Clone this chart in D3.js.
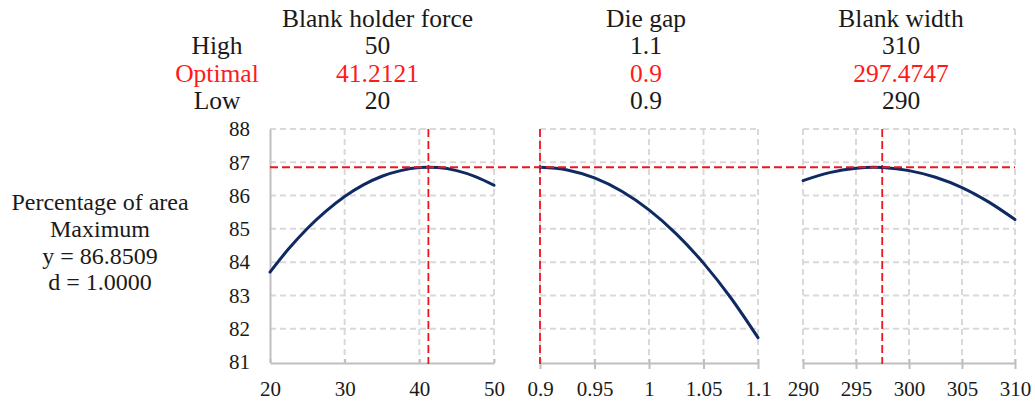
<!DOCTYPE html>
<html>
<head>
<meta charset="utf-8">
<script src="https://cdn.jsdelivr.net/npm/d3@7"></script>
<style>
  html, body { margin: 0; padding: 0; background: #fff; }
  svg { display: block; font-family: "Liberation Serif", "DejaVu Serif", serif; }
  svg text { font-family: "Liberation Serif", "DejaVu Serif", serif !important; }
</style>
</head>
<body>
<svg id="chart" width="1035" height="408"></svg>
<script>
// Response optimization: one panel per factor
const factorNames = ["Blank holder force", "Die gap", "Blank width"];
const highLabels = ["50", "1.1", "310"];
const optimalValues = [41.2121, 0.9, 297.4747];
const optimalLabels = ["41.2121", "0.9", "297.4747"];
const lowLabels = ["20", "0.9", "290"];

const responseName = "Percentage of area";
const goalName = "Maximum";
const responseOptimum = 86.8509;
const desirabilityLabel = "1.0000";

const yTicks = [81, 82, 83, 84, 85, 86, 87, 88];
const xTicksForce = [20, 30, 40, 50];
const xTicksGap = [0.9, 0.95, 1, 1.05, 1.1];
const xTicksWidth = [290, 295, 300, 305, 310];

// Predicted response along each factor, others held at their optimum
const forceX = [20, 22.5, 25, 27.5, 30, 32.5, 35, 37.5, 40, 41.2121, 42.5, 45, 47.5, 50];
const forceY = [83.70, 84.40, 85.01, 85.53, 85.97, 86.32, 86.58, 86.75, 86.84, 86.85, 86.84, 86.75, 86.57, 86.31];
const gapX = [0.9, 0.925, 0.95, 0.975, 1.0, 1.025, 1.05, 1.075, 1.1];
const gapY = [86.85, 86.77, 86.53, 86.13, 85.57, 84.85, 83.97, 82.93, 81.73];
const widthX = [290, 292.5, 295, 296.7, 297.5, 300, 302.5, 305, 307.5, 310];
const widthY = [86.45, 86.69, 86.82, 86.85, 86.84, 86.75, 86.55, 86.24, 85.81, 85.28];

const svg = d3.select("#chart");

const plotTop = 129, plotBottom = 362;
const panels = [
  { x0: 270, x1: 494, domain: [20, 50], ticks: xTicksForce, xs: forceX, ys: forceY, headerX: 377.5, leftAxis: true },
  { x0: 540, x1: 758, domain: [0.9, 1.1], ticks: xTicksGap, xs: gapX, ys: gapY, headerX: 646, leftAxis: false },
  { x0: 803, x1: 1015, domain: [290, 310], ticks: xTicksWidth, xs: widthX, ys: widthY, headerX: 901, leftAxis: false }
];

const y = d3.scaleLinear().domain([81, 88]).range([plotBottom, plotTop]);

const gridColor = "#d9d9d9";
const axisColor = "#bfbfbf";
const refColor = "#f0141e";
const curveColor = "#0f2a62";
const textColor = "#1a1a1a";
const optColor = "#ff1a1a";

// Header block: factor names, high / optimal / low settings
const rowY = [27, 54, 81.5, 109];
const headerSize = 25.5;
const rowLabels = [["High", textColor], ["Optimal", optColor], ["Low", textColor]];
rowLabels.forEach(([t, c], i) => {
  svg.append("text").attr("x", 217).attr("y", rowY[i + 1])
    .attr("text-anchor", "middle").attr("font-size", headerSize).attr("fill", c).text(t);
});

panels.forEach((p, i) => {
  const cols = [[factorNames[i], textColor], [highLabels[i], textColor], [optimalLabels[i], optColor], [lowLabels[i], textColor]];
  cols.forEach(([t, c], r) => {
    svg.append("text").attr("x", p.headerX).attr("y", rowY[r])
      .attr("text-anchor", "middle").attr("font-size", headerSize).attr("fill", c).text(t);
  });
});

// Response summary on the left
const leftLines = [responseName, goalName, "y = " + responseOptimum.toFixed(4), "d = " + desirabilityLabel];
const leftY = [209.5, 236.5, 263.5, 290];
leftLines.forEach((t, i) => {
  svg.append("text").attr("x", 100).attr("y", leftY[i])
    .attr("text-anchor", "middle").attr("font-size", 24).attr("fill", textColor).text(t);
});

panels.forEach((p, i) => {
  const x = d3.scaleLinear().domain(p.domain).range([p.x0, p.x1]);
  const g = svg.append("g");

  // dashed grid
  g.selectAll("line.hgrid").data(yTicks.filter(v => v > 81)).enter().append("line")
    .attr("x1", p.x0).attr("x2", p.x1).attr("y1", d => y(d)).attr("y2", d => y(d))
    .attr("stroke", gridColor).attr("stroke-width", 2).attr("stroke-dasharray", "6,4");
  g.selectAll("line.vgrid").data(p.ticks.filter((v, k) => !(p.leftAxis && k === 0))).enter().append("line")
    .attr("x1", d => x(d)).attr("x2", d => x(d)).attr("y1", plotTop).attr("y2", plotBottom)
    .attr("stroke", gridColor).attr("stroke-width", 2).attr("stroke-dasharray", "6,4");

  // bottom axis
  const ax = g.append("g").attr("transform", `translate(0,${plotBottom + 1})`)
    .call(d3.axisBottom(x).tickValues(p.ticks).tickFormat(d => String(d))
      .tickSizeInner(p.leftAxis ? -4 : 6).tickSizeOuter(0));
  ax.attr("font-family", null);
  ax.select(".domain").attr("stroke", axisColor).attr("stroke-width", 2);
  ax.selectAll(".tick line").attr("stroke", axisColor).attr("stroke-width", 2)
    .attr("y1", p.leftAxis ? 0 : -4);
  ax.selectAll(".tick text").attr("font-size", 21).attr("fill", textColor)
    .attr("dy", null).attr("y", 33);

  // left axis on the first panel only
  if (p.leftAxis) {
    const ay = g.append("g").attr("transform", `translate(${p.x0},0)`)
      .call(d3.axisLeft(y).tickValues(yTicks).tickFormat(d3.format("d")).tickSize(0).tickPadding(20));
    ay.attr("font-family", null);
    ay.select(".domain").attr("stroke", axisColor).attr("stroke-width", 2);
    ay.selectAll(".tick text").attr("font-size", 21).attr("fill", textColor);
  }

  // optimum setting marker
  g.append("line").attr("x1", x(optimalValues[i])).attr("x2", x(optimalValues[i]))
    .attr("y1", plotTop).attr("y2", plotBottom + 2)
    .attr("stroke", refColor).attr("stroke-width", 1.8).attr("stroke-dasharray", "8,4");

  // response curve
  const line = d3.line().x((d, k) => x(p.xs[k])).y(d => y(d)).curve(d3.curveMonotoneX);
  g.append("path").datum(p.ys).attr("d", line)
    .attr("fill", "none").attr("stroke", curveColor).attr("stroke-width", 3)
    .attr("stroke-linecap", "round");
});

// predicted optimum across all panels
svg.append("line").attr("x1", panels[0].x0).attr("x2", panels[2].x1)
  .attr("y1", y(responseOptimum)).attr("y2", y(responseOptimum))
  .attr("stroke", refColor).attr("stroke-width", 1.8).attr("stroke-dasharray", "8,4");
</script>
</body>
</html>
